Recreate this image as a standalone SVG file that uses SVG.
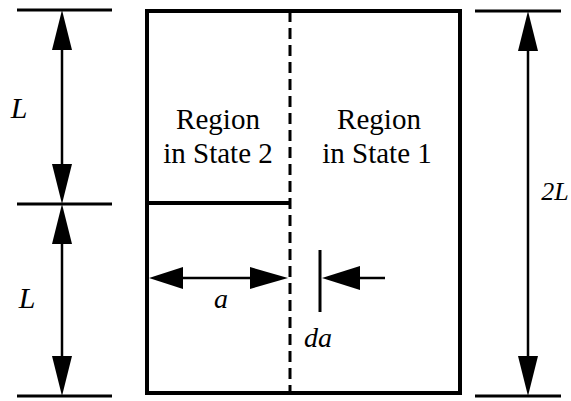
<svg xmlns="http://www.w3.org/2000/svg" width="571" height="401" viewBox="0 0 571 401">
<style>
.t{font-family:"Liberation Serif","Times New Roman",serif;font-size:29px;fill:#000;text-anchor:middle}
.i{font-family:"Liberation Serif","Times New Roman",serif;font-style:italic;fill:#000;text-anchor:middle}
.th{stroke:#000;stroke-width:4;fill:none}
.ln{stroke:#000;stroke-width:3;fill:none}
.dim{stroke:#000;stroke-width:2.5;fill:none}
.ah{fill:#000;stroke:none}
</style>
<rect width="571" height="401" fill="#fff"/>
<g id="box">
<rect x="147" y="11" width="313" height="382" class="th"/>
<line x1="147" y1="203" x2="291" y2="203" class="th"/>
<line x1="290" y1="11" x2="290" y2="393" stroke="#000" stroke-width="3" stroke-dasharray="11,6"/>
</g>
<g id="region2">
<text class="t" x="218" y="129">Region</text>
<text class="t" x="218" y="163">in State 2</text>
</g>
<g id="region1">
<text class="t" x="379" y="129">Region</text>
<text class="t" x="377" y="163">in State 1</text>
</g>
<g id="connectors">
<line x1="17" y1="10" x2="112" y2="10" class="ln"/>
<line x1="17" y1="204" x2="112" y2="204" class="ln"/>
<line x1="17" y1="396" x2="112" y2="396" class="ln"/>
<line x1="62" y1="40" x2="62" y2="174" class="dim"/>
<polygon class="ah" points="62,10 52,50 72,50"/>
<polygon class="ah" points="62,204 52,164 72,164"/>
<line x1="62" y1="234" x2="62" y2="366" class="dim"/>
<polygon class="ah" points="62,204 52,244 72,244"/>
<polygon class="ah" points="62,396 52,356 72,356"/>
<line x1="475" y1="11" x2="561" y2="11" class="ln"/>
<line x1="475" y1="396" x2="561" y2="396" class="ln"/>
<line x1="528" y1="40" x2="528" y2="366" class="dim"/>
<polygon class="ah" points="528,11 518,51 538,51"/>
<polygon class="ah" points="528,396 518,356 538,356"/>
<line x1="175" y1="278" x2="260" y2="278" class="dim"/>
<polygon class="ah" points="149,278 183,267 183,289"/>
<polygon class="ah" points="288,278 250,267 250,289"/>
<line x1="320" y1="250" x2="320" y2="312" class="ln"/>
<line x1="355" y1="278" x2="385" y2="278" class="dim"/>
<polygon class="ah" points="322,278 360,266 360,290"/>
</g>
<g id="labels">
<text class="i" x="19" y="118" font-size="30">L</text>
<text class="i" x="27" y="308" font-size="30">L</text>
<text class="i" x="555" y="200" font-size="26">2L</text>
<text class="i" x="221" y="308" font-size="28">a</text>
<text class="i" x="318" y="347" font-size="28">da</text>
</g>
</svg>
